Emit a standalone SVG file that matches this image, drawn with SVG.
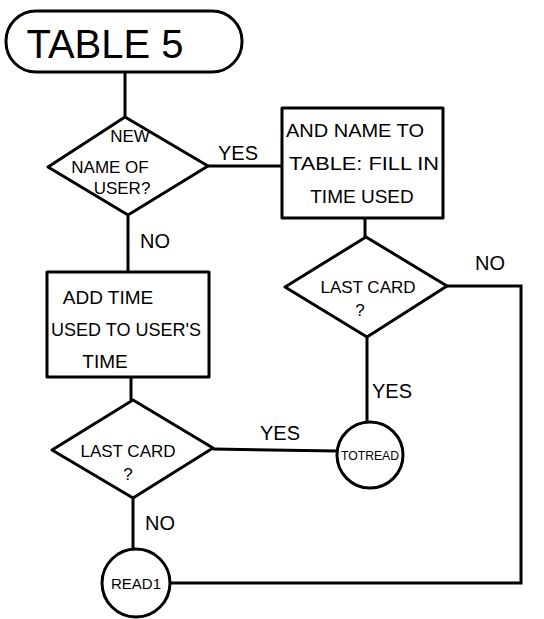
<svg xmlns="http://www.w3.org/2000/svg" width="544" height="619" viewBox="0 0 544 619">
<style>
.s{fill:#fff;stroke:#000;stroke-width:3;stroke-linejoin:round}
.c{fill:none;stroke:#000;stroke-width:3}
text{font-family:"Liberation Sans",Arial,sans-serif;fill:#000;text-anchor:middle}
.t{font-size:19px}
.d{font-size:17px}
.l{font-size:20px}
.k{font-size:13px}
</style>
<rect width="544" height="619" fill="#fff"/>
<g id="connectors">
<path class="c" d="M125 72V117"/>
<path class="c" d="M208 166H283"/>
<path class="c" d="M365 218V237"/>
<path class="c" d="M447 286H521V583H170"/>
<path class="c" d="M367 337V422"/>
<path class="c" d="M128 216V272"/>
<path class="c" d="M131 377V400"/>
<path class="c" d="M213 449L337 451"/>
<path class="c" d="M133 498V549"/>
<text class="l" x="238" y="160">YES</text>
<text class="l" x="490" y="270">NO</text>
<text class="l" x="392" y="398">YES</text>
<text class="l" x="155" y="248">NO</text>
<text class="l" x="280" y="440">YES</text>
<text class="l" x="160" y="530">NO</text>
</g>
<g id="start">
<rect class="s" x="6" y="11" width="236" height="61" rx="30"/>
<text x="105" y="58" font-size="40">TABLE 5</text>
</g>
<g id="dec-new-name">
<path class="s" d="M125 117L208 166L128 215L48 167Z"/>
<text class="d" x="130" y="142">NEW</text>
<text class="d" x="110" y="173">NAME OF</text>
<text class="d" x="122" y="194">USER?</text>
</g>
<g id="add-name">
<rect class="s" x="282" y="108" width="161" height="110"/>
<text class="t" x="355" y="137" textLength="138" lengthAdjust="spacingAndGlyphs">AND NAME TO</text>
<text class="t" x="364" y="170" textLength="150" lengthAdjust="spacingAndGlyphs">TABLE: FILL IN</text>
<text class="t" x="362" y="203">TIME USED</text>
</g>
<g id="dec-last-card-1">
<path class="s" d="M366 237L447 286L367 337L285 287Z"/>
<text class="d" x="368" y="293">LAST CARD</text>
<text class="d" x="360" y="316">?</text>
</g>
<g id="add-time">
<rect class="s" x="47" y="272" width="162" height="105"/>
<text class="t" x="108" y="304">ADD TIME</text>
<text class="t" x="126" y="336" textLength="150" lengthAdjust="spacingAndGlyphs">USED TO USER'S</text>
<text class="t" x="105" y="368">TIME</text>
</g>
<g id="dec-last-card-2">
<path class="s" d="M133 400L213 448L133 498L52 450Z"/>
<text class="d" x="128" y="457">LAST CARD</text>
<text class="d" x="128" y="480">?</text>
</g>
<g id="totread">
<circle class="s" cx="370" cy="455" r="33"/>
<text class="k" x="370" y="460" textLength="58" lengthAdjust="spacingAndGlyphs">TOTREAD</text>
</g>
<g id="read1">
<circle class="s" cx="136" cy="583" r="34"/>
<text x="136" y="589" font-size="15">READ1</text>
</g>
</svg>
